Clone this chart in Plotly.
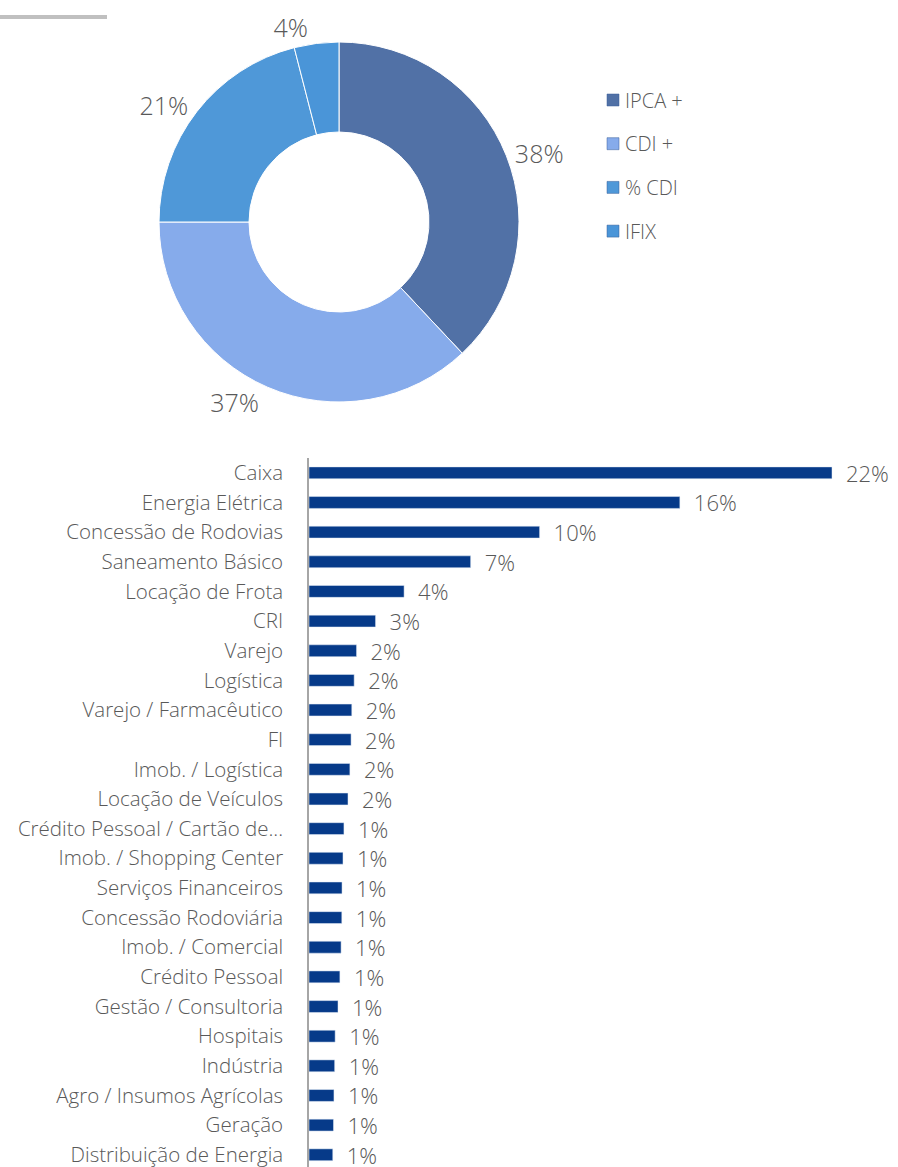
import plotly.graph_objects as go

# Donut: indexer breakdown
idx_labels = ["IPCA +", "CDI +", "% CDI", "IFIX"]
idx_values = [38, 37, 21, 4]
idx_colors = ["#5171a6", "#86abeb", "#4f98d8", "#4a95d8"]

# Bars: sector breakdown (% of portfolio)
sectors = [
    "Caixa", "Energia Elétrica", "Concessão de Rodovias", "Saneamento Básico",
    "Locação de Frota", "CRI", "Varejo", "Logística", "Varejo / Farmacêutico",
    "FI", "Imob. / Logística", "Locação de Veículos",
    "Crédito Pessoal / Cartão de...", "Imob. / Shopping Center",
    "Serviços Financeiros", "Concessão Rodoviária", "Imob. / Comercial",
    "Crédito Pessoal", "Gestão / Consultoria", "Hospitais", "Indústria",
    "Agro / Insumos Agrícolas", "Geração", "Distribuição de Energia",
]
sector_values = [
    22.0, 15.6, 9.7, 6.8, 4.0, 2.8, 2.0, 1.9, 1.8, 1.77, 1.72, 1.64,
    1.47, 1.43, 1.39, 1.38, 1.35, 1.30, 1.22, 1.10, 1.08, 1.05, 1.03, 1.0,
]

W, H = 898, 1167
TEXT = "#595959"
FONT = "Open Sans"

fig = go.Figure()

fig.add_trace(go.Pie(
    labels=idx_labels,
    values=idx_values,
    hole=0.5,
    sort=False,
    direction="clockwise",
    rotation=0,
    marker=dict(colors=idx_colors, line=dict(color="white", width=1)),
    texttemplate="%{value}%",
    textposition="outside",
    textfont=dict(size=25, color=TEXT, family=FONT, weight=300),
    showlegend=False,
    domain=dict(x=[159 / W, 519 / W], y=[1 - 402 / H, 1 - 42 / H]),
))

fig.add_trace(go.Bar(
    x=sector_values,
    y=sectors,
    orientation="h",
    width=0.4,
    marker=dict(color="#063a89"),
    text=[f"{v:.0f}%" for v in sector_values],
    texttemplate="\u2002%{text}",
    textposition="outside",
    constraintext="none",
    cliponaxis=False,
    textfont=dict(size=22, color=TEXT, family=FONT, weight=300),
    showlegend=False,
    xaxis="x",
    yaxis="y",
))

# legend drawn by hand so the spacing matches
shapes = [dict(type="line", xref="paper", yref="paper",
               x0=0, x1=107 / W, y0=1 - 17 / H, y1=1 - 17 / H,
               line=dict(color="#c0c0c0", width=4))]
annotations = []
for i, (lab, col) in enumerate(zip(idx_labels, idx_colors)):
    yc = 100 + i * 43.7
    shapes.append(dict(type="rect", xref="paper", yref="paper",
                       x0=607 / W, x1=619 / W,
                       y0=1 - (yc + 6) / H, y1=1 - (yc - 6) / H,
                       fillcolor=col, line=dict(color="#3a5f99", width=0.5)))
    annotations.append(dict(xref="paper", yref="paper", x=623 / W, y=1 - yc / H,
                            text=lab, showarrow=False, xanchor="left",
                            yanchor="middle",
                            font=dict(size=20, color=TEXT, family=FONT,
                                      weight=300)))

px_per_unit = (832 - 309) / 22.0
fig.update_layout(
    width=W, height=H,
    margin=dict(l=0, r=0, t=0, b=0),
    paper_bgcolor="white", plot_bgcolor="white",
    shapes=shapes,
    annotations=annotations,
    xaxis=dict(domain=[309 / W, 1], range=[0, (W - 309) / px_per_unit],
               visible=False),
    yaxis=dict(domain=[0, (H - 458) / H], type="category",
               categoryorder="array", categoryarray=sectors,
               range=[-0.5 + (H - 458) / 29.65, -0.5],
               showline=True, linecolor="#a6a6a6", linewidth=1.5,
               showgrid=False, zeroline=False, ticks="",
               ticklabelstandoff=20,
               tickfont=dict(size=20.5, color=TEXT, family=FONT,
                             weight=300)),
    bargap=0.6,
)

fig.write_html("out.html", config={"displayModeBar": False},
               post_script="document.body.style.margin='0';")
